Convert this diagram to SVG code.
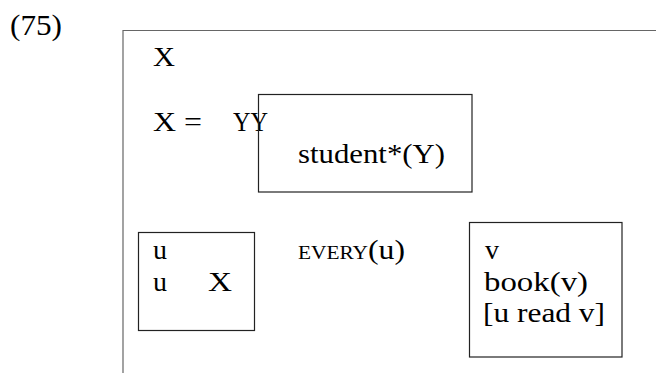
<svg xmlns="http://www.w3.org/2000/svg" width="656" height="373" viewBox="0 0 656 373">
<style>
text{font-family:"Liberation Serif","Times New Roman",serif;font-size:28px;fill:#000}
.box{fill:none;stroke:#222;stroke-width:1.2}
.outer{fill:none;stroke:#666;stroke-width:1.2}
</style>
<rect width="656" height="373" fill="#fff"/>
<text id="label" x="10" y="35" style="font-size:29px" textLength="52" lengthAdjust="spacingAndGlyphs">(75)</text>
<g id="outer">
<path class="outer" d="M123,373 V30.5 H656"/>
<text x="153" y="66" style="font-size:27px" textLength="22" lengthAdjust="spacingAndGlyphs">X</text>
<text y="131" style="font-size:27px"><tspan x="153" textLength="49" lengthAdjust="spacingAndGlyphs">X =</tspan><tspan x="233" textLength="35" lengthAdjust="spacingAndGlyphs">YY</tspan></text>
</g>
<g id="student">
<rect class="box" x="258.5" y="94.5" width="213.5" height="97.5"/>
<text x="298" y="163" textLength="147" lengthAdjust="spacingAndGlyphs">student*(Y)</text>
</g>
<g id="ubox">
<rect class="box" x="138.5" y="232.5" width="116" height="98"/>
<text x="153" y="259" textLength="14" lengthAdjust="spacingAndGlyphs">u</text>
<text y="291"><tspan x="153" textLength="14" lengthAdjust="spacingAndGlyphs">u</tspan><tspan x="208" textLength="24" lengthAdjust="spacingAndGlyphs">X</tspan></text>
</g>
<g id="every">
<text y="259"><tspan x="298" style="font-size:19px" textLength="70" lengthAdjust="spacingAndGlyphs">EVERY</tspan><tspan x="368" textLength="37" lengthAdjust="spacingAndGlyphs">(u)</tspan></text>
</g>
<g id="vbox">
<rect class="box" x="469.5" y="222.5" width="152.5" height="134.5"/>
<text x="485" y="259" textLength="14" lengthAdjust="spacingAndGlyphs">v</text>
<text x="484" y="291" textLength="104" lengthAdjust="spacingAndGlyphs">book(v)</text>
<text x="483" y="322" textLength="122" lengthAdjust="spacingAndGlyphs">[u read v]</text>
</g>
<g id="connectors"/>
</svg>
